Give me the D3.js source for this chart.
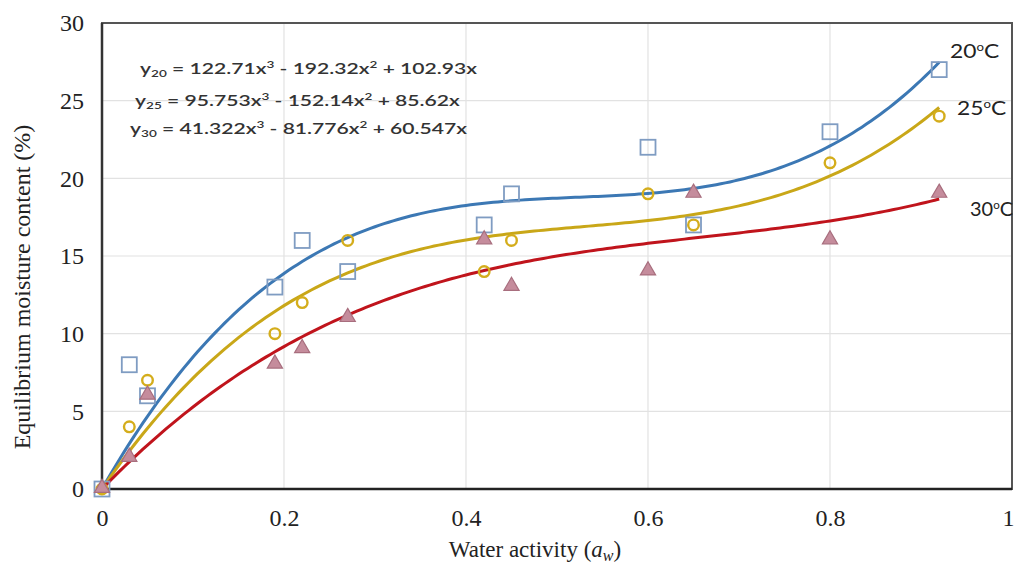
<!DOCTYPE html>
<html>
<head>
<meta charset="utf-8">
<script src="https://cdn.jsdelivr.net/npm/d3@7"></script>
<style>
  body { margin: 0; background: #fff; }
  svg { display: block; }
</style>
</head>
<body>
<div id="chart"></div>
<script>
// water activity values (x) shared by all three temperatures
var aw = [0, 0.03, 0.05, 0.19, 0.22, 0.27, 0.42, 0.45, 0.6, 0.65, 0.8, 0.92];
var emc20 = [0, 8, 6, 13, 16, 14, 17, 19, 22, 17, 23, 27];
var emc25 = [0, 4, 7, 10, 12, 16, 14, 16, 19, 17, 21, 24];
var emc30 = [0, 2, 6, 8, 9, 11, 16, 13, 14, 19, 16, 19];

// trendline coefficients [x^3, x^2, x]
var coef20 = [122.71, -192.32, 102.93];
var coef25 = [95.753, -152.14, 85.62];
var coef30 = [41.322, -81.776, 60.547];

var xTicks = [0, 0.2, 0.4, 0.6, 0.8, 1];
var yTicks = [0, 5, 10, 15, 20, 25, 30];
var seriesNames = ["20", "25", "30"];

var width = 1016, height = 567;
var margin = {top: 23, right: 4, bottom: 78, left: 102};
var w = width - margin.left - margin.right;
var h = height - margin.top - margin.bottom;

var serif = "'Liberation Serif', 'Times New Roman', serif";
var sans = "Lato, 'Open Sans', sans-serif";

var svg = d3.select("#chart").append("svg")
    .attr("width", width)
    .attr("height", height);

var g = svg.append("g")
    .attr("transform", "translate(" + margin.left + "," + margin.top + ")");

var x = d3.scaleLinear().domain([0, 1]).range([0, w]);
var y = d3.scaleLinear().domain([0, 30]).range([h, 0]);

// gridlines
g.append("g").selectAll("line")
    .data(xTicks.slice(1, -1))
    .enter().append("line")
    .attr("x1", function(d){ return x(d); })
    .attr("x2", function(d){ return x(d); })
    .attr("y1", 0).attr("y2", h)
    .style("stroke", "#e2e2e2").style("stroke-width", 1.2);

g.append("g").selectAll("line")
    .data(yTicks.slice(1, -1))
    .enter().append("line")
    .attr("x1", 0).attr("x2", w)
    .attr("y1", function(d){ return y(d); })
    .attr("y2", function(d){ return y(d); })
    .style("stroke", "#e2e2e2").style("stroke-width", 1.2);

// frame
g.append("rect")
    .attr("x", 0).attr("y", 0).attr("width", w).attr("height", h)
    .style("fill", "none").style("stroke", "#555").style("stroke-width", 2);
g.append("line")
    .attr("x1", 0).attr("x2", w).attr("y1", h).attr("y2", h)
    .style("stroke", "#222").style("stroke-width", 2.5);
g.append("line")
    .attr("x1", 0).attr("x2", 0).attr("y1", 0).attr("y2", h)
    .style("stroke", "#333").style("stroke-width", 2.5);

// axes
var xAxis = d3.axisBottom(x).tickValues(xTicks).tickSize(0).tickPadding(20)
    .tickFormat(function(d){ return d === 0 || d === 1 ? d : d3.format(".1f")(d); });
var gx = g.append("g").attr("transform", "translate(0," + h + ")").call(xAxis);
gx.select(".domain").remove();
gx.selectAll("text")
    .style("font-family", serif)
    .style("font-size", "24px").style("fill", "#222");
// last label sits on the page edge
gx.selectAll("text").filter(function(d){ return d === 1; }).attr("dx", -4);

var yAxis = d3.axisLeft(y).tickValues(yTicks).tickSize(0).tickPadding(18);
var gy = g.append("g").call(yAxis);
gy.select(".domain").remove();
gy.selectAll("text")
    .style("font-family", serif)
    .style("font-size", "24px").style("fill", "#222");

// axis titles
var xt = svg.append("text")
    .attr("x", 535).attr("y", 557)
    .attr("text-anchor", "middle")
    .style("font-family", serif)
    .style("font-size", "23px").style("fill", "#222");
xt.append("tspan").text("Water activity (");
xt.append("tspan").text("a").style("font-style", "italic");
xt.append("tspan").text("w").style("font-style", "italic").style("font-size", "16px").attr("dy", 4);
xt.append("tspan").text(")").attr("dy", -4);

svg.append("text")
    .attr("transform", "translate(30,287) rotate(-90)")
    .attr("text-anchor", "middle")
    .style("font-family", serif)
    .style("font-size", "24px").style("fill", "#222")
    .text("Equilibrium moisture content (%)");

// trendlines
var coefs = [coef20, coef25, coef30];
var lineColors = ["#3c78b4", "#c9a718", "#c0141c"];
var samples = d3.range(0, 0.9201, 0.005);

var line = d3.line()
    .x(function(d){ return x(d[0]); })
    .y(function(d){ return y(d[1]); });

coefs.forEach(function(c, i){
    var pts = samples.map(function(t){
        return [t, c[0]*t*t*t + c[1]*t*t + c[2]*t];
    });
    g.append("path")
        .datum(pts)
        .attr("d", line)
        .style("fill", "none")
        .style("stroke", lineColors[i])
        .style("stroke-width", 3);
});

// markers
function pairs(vals){
    return aw.map(function(a, i){ return [a, vals[i]]; });
}

g.selectAll(".sq")
    .data(pairs(emc20))
    .enter().append("rect")
    .attr("class", "sq")
    .attr("x", function(d){ return x(d[0]) - 7.5; })
    .attr("y", function(d){ return y(d[1]) - 7.5; })
    .attr("width", 15).attr("height", 15)
    .style("fill", "none")
    .style("stroke", "#7f9cc2").style("stroke-width", 1.8);

g.selectAll(".circ")
    .data(pairs(emc25))
    .enter().append("circle")
    .attr("class", "circ")
    .attr("cx", function(d){ return x(d[0]); })
    .attr("cy", function(d){ return y(d[1]); })
    .attr("r", 5.3)
    .style("fill", "none")
    .style("stroke", "#d4ad1c").style("stroke-width", 2.4);

var tri = d3.symbol().type(d3.symbolTriangle).size(100);
g.selectAll(".tri")
    .data(pairs(emc30))
    .enter().append("path")
    .attr("class", "tri")
    .attr("d", tri)
    .attr("transform", function(d){ return "translate(" + x(d[0]) + "," + (y(d[1]) - 1) + ")"; })
    .style("fill", "#c58c9c")
    .style("stroke", "#a86e7e").style("stroke-width", 1.2);

// equations (the source image is stretched sideways)
var eqs = [
    {sub: "20", c: coef20, x: 140, y: 74},
    {sub: "25", c: coef25, x: 135, y: 106},
    {sub: "30", c: coef30, x: 130, y: 134}
];
eqs.forEach(function(e){
    var t = svg.append("text")
        .attr("transform", "translate(" + e.x + "," + e.y + ") scale(1.36,1)")
        .style("font-family", sans)
        .style("font-size", "15.5px").style("font-weight", "600")
        .style("fill", "#333");
    t.append("tspan").text("y");
    t.append("tspan").text(e.sub).style("font-size", "10px").attr("dy", 3);
    t.append("tspan").text(" = " + e.c[0] + "x").attr("dy", -3);
    t.append("tspan").text("3").style("font-size", "10px").attr("dy", -6);
    t.append("tspan").text(" - " + Math.abs(e.c[1]) + "x").attr("dy", 6);
    t.append("tspan").text("2").style("font-size", "10px").attr("dy", -6);
    t.append("tspan").text(" + " + e.c[2] + "x").attr("dy", 6);
});

// temperature labels
var tempPos = [[950, 58, 1.2], [957, 115, 1.2], [970, 216, 1.05]];
seriesNames.forEach(function(n, i){
    var t = svg.append("text")
        .attr("transform", "translate(" + tempPos[i][0] + "," + tempPos[i][1] + ") scale(" + tempPos[i][2] + ",1)")
        .style("font-family", sans)
        .style("font-size", "19px").style("fill", "#222");
    t.append("tspan").text(n);
    t.append("tspan").text("o").style("font-size", "11px").attr("dy", -7);
    t.append("tspan").text("C").attr("dy", 7);
});
</script>
</body>
</html>
